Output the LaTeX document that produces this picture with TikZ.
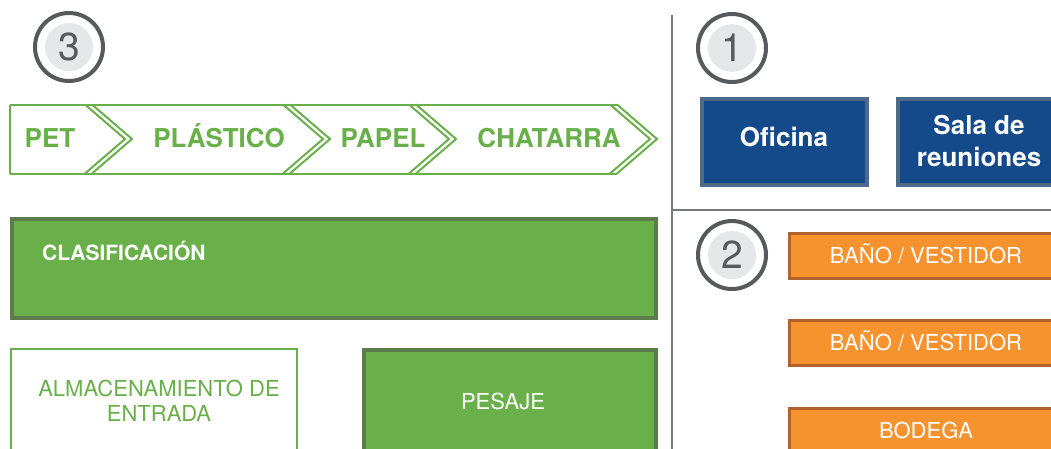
\documentclass[tikz,border=0pt]{standalone}
\usepackage{fontspec}
\setmainfont{TeX Gyre Heros}
\definecolor{grn}{HTML}{6AB04A}
\definecolor{grndark}{HTML}{5E7C4B}
\definecolor{blu}{HTML}{154A8A}
\definecolor{bluborder}{HTML}{4E6A89}
\definecolor{org}{HTML}{F6932F}
\definecolor{orgdark}{HTML}{B3622B}
\definecolor{ring}{HTML}{58595B}
\definecolor{ringfill}{HTML}{E6E7E8}
\definecolor{sep}{HTML}{77787B}
\tikzset{
  greenbox/.style={draw=grndark, fill=grn, line width=4pt, inner sep=0pt},
  outlinebox/.style={draw=grn, fill=white, line width=2pt, inner sep=0pt},
  bluebox/.style={draw=bluborder, fill=blu, line width=4pt, inner sep=0pt},
  orangebox/.style={draw=orgdark, fill=org, line width=3pt, inner sep=0pt, minimum width=273pt, minimum height=45pt},
  ringnode/.style={circle, draw=ring, fill=white, line width=4pt, minimum size=68pt, inner sep=0pt},
  ringin/.style={circle, fill=ringfill, minimum size=48pt, inner sep=0pt, text=ring, font=\fontsize{39}{39}\selectfont},
  chev/.style={draw=grn, line width=2pt, line join=miter},
  caps/.style={inner sep=0pt, text height=#1, text depth=0pt},
  chevtext/.style={caps=18.7pt, text=grn, font=\fontsize{26}{30}\selectfont\bfseries},
  whitetext/.style={caps=15.8pt, text=white, font=\fontsize{22}{26}\selectfont},
  sepline/.style={draw=sep, line width=2pt}
}
\begin{document}
\begin{tikzpicture}[x=1pt,y=-1pt]
\useasboundingbox (0,0) rectangle (1051,448);
\clip (0,0) rectangle (1051,448);

% separators
\coordinate (vtop) at (672,15);
\coordinate (vbot) at (672,450);
\coordinate (hl) at (672,210);
\coordinate (hr) at (1053,210);
\path[sepline] (vtop) -- (vbot);
\path[sepline] (hl) -- (hr);

% numbered circles
\node[ringnode] (c3) at (69,47) {};
\node[ringin] (n3) at (c3) {3};
\node[ringnode] (c1) at (732,48) {};
\node[ringin] (n1) at (c1) {1};
\node[ringnode] (c2) at (732,255) {};
\node[ringin] (n2) at (c2) {2};

% chevron strip
\def\ty{104.5}\def\by{173.5}\def\my{139}
\path[chev] (10,\ty) -- (617,\ty);
\path[chev] (10,\by) -- (617,\by);
\path[chev] (10,\ty) -- (10,\by);
\foreach \b in {85,283,409,610}{
  \path[chev] (\b,\ty) -- ({\b+40},\my) -- (\b,\by);
  \path[chev] ({\b+7},\ty) -- ({\b+47},\my) -- ({\b+7},\by);
}
\node[chevtext] (pet) at (50,138) {PET};
\node[chevtext] (plas) at (219,138) {PLÁSTICO};
\node[chevtext] (papel) at (383,138) {PAPEL};
\node[chevtext] (chat) at (549,138) {CHATARRA};

% green area
\node[greenbox, minimum width=644pt, minimum height=99pt] (clas) at (334,268.5) {};
\node[caps=15.1pt, text=white, anchor=west, font=\fontsize{21}{25}\selectfont\bfseries] (clast) at (42,253) {CLASIFICACIÓN};

\node[outlinebox, minimum width=286pt, minimum height=104pt] (alm) at (154,401) {};
\node[text=grn, inner sep=0pt, align=center, font=\fontsize{22}{25}\selectfont] (almt) at (159,401) {ALMACENAMIENTO DE\\ENTRADA};

\node[greenbox, minimum width=292pt, minimum height=104pt] (pes) at (510,402) {};
\node[whitetext] (pest) at (503,402) {PESAJE};

% blue boxes
\node[bluebox, minimum width=165pt, minimum height=86pt] (ofi) at (784.5,142) {};
\node[text=white, inner sep=0pt, font=\fontsize{26}{31}\selectfont\bfseries] (ofit) at (784,137) {Oficina};
\node[bluebox, minimum width=165pt, minimum height=86pt] (sala) at (980.5,142) {};
\node[text=white, inner sep=0pt, align=center, font=\fontsize{26}{32}\selectfont\bfseries] (salat) at (979,141) {Sala de\\reuniones};

% orange boxes
\node[orangebox] (b1) at (926,255.5) {};
\node[whitetext] (b1t) at (b1) {BAÑO / VESTIDOR};
\node[orangebox] (b2) at (926,342.5) {};
\node[whitetext] (b2t) at (b2) {BAÑO / VESTIDOR};
\node[orangebox] (b3) at (926,431) {};
\node[whitetext] (b3t) at (b3) {BODEGA};
\end{tikzpicture}
\end{document}
